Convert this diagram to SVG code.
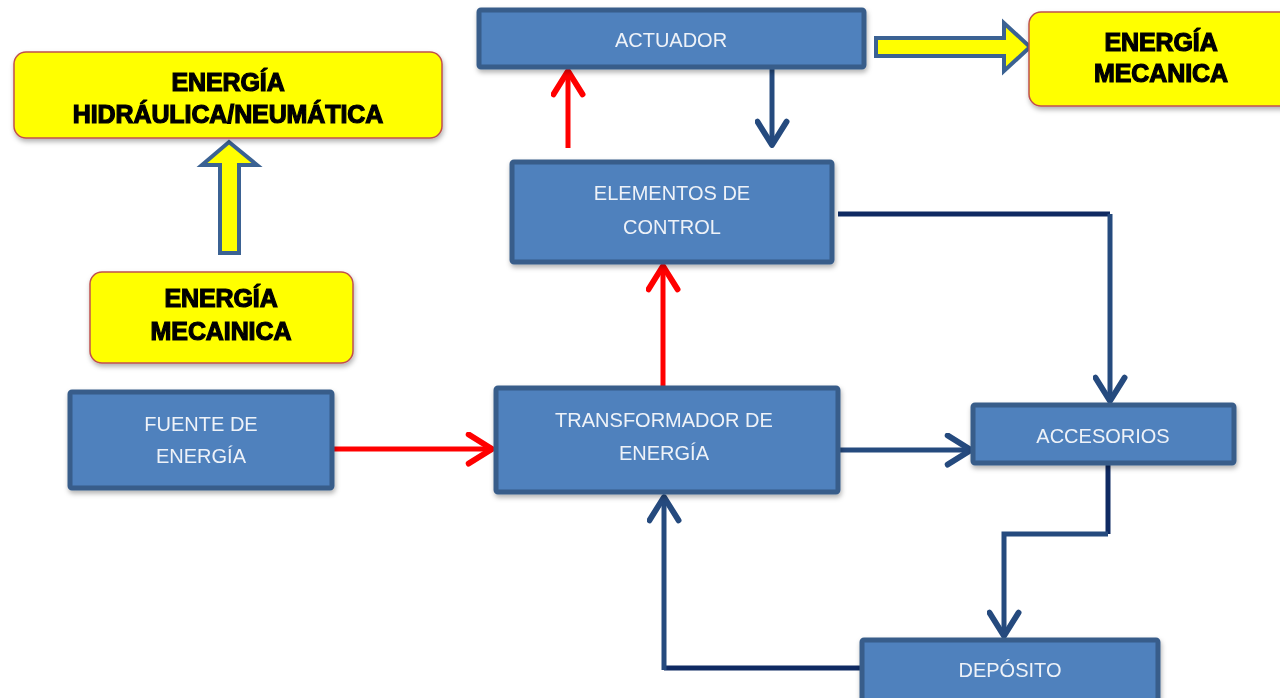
<svg xmlns="http://www.w3.org/2000/svg" width="1280" height="698" viewBox="0 0 1280 698">
<defs>
<style>
.bx{fill:#4F81BD;stroke:#385D8A;stroke-width:5}
.yb{fill:#FFFF00;stroke:#C0504D;stroke-width:1.5}
.bt{font-family:"Liberation Sans",Arial,sans-serif;font-size:20px;fill:#EEF2F8;text-anchor:middle}
.yt{font-family:"Liberation Sans",Arial,sans-serif;font-weight:bold;font-size:25px;fill:#000;stroke:#000;stroke-width:1.2;text-anchor:middle;letter-spacing:-0.1px}
.red{fill:none;stroke:#FF0000;stroke-width:5}
.blu{fill:none;stroke:#254A7E;stroke-width:5}
.dk{stroke:#0F2A62}
.hol{fill:#FFFF00;stroke:#3B6293;stroke-width:4;stroke-linejoin:miter}
</style>
<marker id="ar" viewBox="0 0 12 12" refX="10" refY="6" markerWidth="7" markerHeight="7" orient="auto" markerUnits="strokeWidth">
<path d="M2,1 L10,6 L2,11" fill="none" stroke="#FF0000" stroke-width="2" stroke-linecap="round" stroke-linejoin="round"/>
</marker>
<marker id="ab" viewBox="0 0 12 12" refX="10" refY="6" markerWidth="7" markerHeight="7" orient="auto" markerUnits="strokeWidth">
<path d="M2,1 L10,6 L2,11" fill="none" stroke="#254A7E" stroke-width="2" stroke-linecap="round" stroke-linejoin="round"/>
</marker>
<filter id="sh" x="-10%" y="-10%" width="120%" height="130%">
<feDropShadow dx="1" dy="3" stdDeviation="2.5" flood-color="#000" flood-opacity="0.3"/>
</filter>
</defs>
<rect width="1280" height="698" fill="#FFFFFF"/>

<g id="connectors">
<path class="red" d="M334,449 L492,449" marker-end="url(#ar)"/>
<path class="red" d="M663,388 L663,266" marker-end="url(#ar)"/>
<path class="red" d="M568,148 L568,71" marker-end="url(#ar)"/>
<path class="blu" d="M772,68 L772,145" marker-end="url(#ab)"/>
<path class="blu dk" d="M838,214 L1110,214"/>
<path class="blu" d="M1110,214 L1110,401" marker-end="url(#ab)"/>
<path class="blu" d="M840,450 L971,450" marker-end="url(#ab)"/>
<path class="blu dk" d="M1108,465 L1108,534"/>
<path class="blu" d="M1108,534 L1004,534 L1004,636" marker-end="url(#ab)"/>
<path class="blu dk" d="M862,668 L664,668"/>
<path class="blu" d="M664,670 L664,497" marker-end="url(#ab)"/>
<path id="arrow-up-yellow" class="hol" d="M220,253 L220,165 L202,165 L229,142 L257,165 L239,165 L239,253 Z"/>
<path id="arrow-right-yellow" class="hol" d="M876,38 L1004,38 L1004,23 L1030,47 L1004,71 L1004,56 L876,56 Z"/>
</g>

<g id="n-hidraulica" filter="url(#sh)">
<rect class="yb" x="14" y="52" width="428" height="86" rx="12"/>
<text class="yt" x="228" y="91">ENERGÍA</text>
<text class="yt" x="228" y="123">HIDRÁULICA/NEUMÁTICA</text>
</g>
<g id="n-mecainica" filter="url(#sh)">
<rect class="yb" x="90" y="272" width="263" height="91" rx="12"/>
<text class="yt" x="221" y="307">ENERGÍA</text>
<text class="yt" x="221" y="340">MECAINICA</text>
</g>
<g id="n-mecanica" filter="url(#sh)">
<rect class="yb" x="1029" y="12" width="270" height="94" rx="12"/>
<text class="yt" x="1161" y="51">ENERGÍA</text>
<text class="yt" x="1161" y="82">MECANICA</text>
</g>

<g id="n-actuador" filter="url(#sh)">
<rect class="bx" x="479" y="10" width="385" height="57" rx="2"/>
<text class="bt" x="671" y="47">ACTUADOR</text>
</g>
<g id="n-control" filter="url(#sh)">
<rect class="bx" x="512" y="162" width="320" height="100" rx="2"/>
<text class="bt" x="672" y="200">ELEMENTOS DE</text>
<text class="bt" x="672" y="234">CONTROL</text>
</g>
<g id="n-fuente" filter="url(#sh)">
<rect class="bx" x="70" y="392" width="262" height="96" rx="2"/>
<text class="bt" x="201" y="431">FUENTE DE</text>
<text class="bt" x="201" y="463">ENERGÍA</text>
</g>
<g id="n-transformador" filter="url(#sh)">
<rect class="bx" x="496" y="388" width="342" height="104" rx="2"/>
<text class="bt" x="664" y="427">TRANSFORMADOR DE</text>
<text class="bt" x="664" y="460">ENERGÍA</text>
</g>
<g id="n-accesorios" filter="url(#sh)">
<rect class="bx" x="973" y="405" width="261" height="58" rx="2"/>
<text class="bt" x="1103" y="443">ACCESORIOS</text>
</g>
<g id="n-deposito" filter="url(#sh)">
<rect class="bx" x="862" y="640" width="296" height="64" rx="2"/>
<text class="bt" x="1010" y="677">DEPÓSITO</text>
</g>
</svg>
